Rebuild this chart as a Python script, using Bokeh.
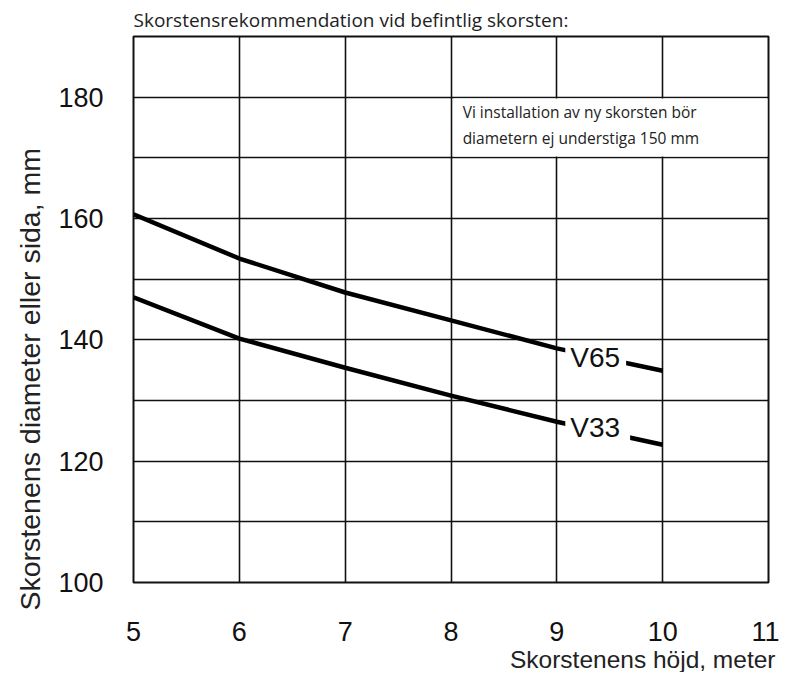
from bokeh.plotting import figure
from bokeh.models import FixedTicker, Title, Label, BoxAnnotation
from bokeh.embed import file_html
from bokeh.resources import INLINE

# ---- data ----
heights = [5, 6, 7, 8, 9, 10]
v65 = [160.7, 153.4, 147.8, 143.2, 138.6, 134.9]
v33 = [147.0, 140.2, 135.4, 130.8, 126.5, 122.7]
x_ticks = [5, 6, 7, 8, 9, 10, 11]
y_ticks = [100, 120, 140, 160, 180]
y_grid = [100, 110, 120, 130, 140, 150, 160, 170, 180, 190]

title_text = "Skorstensrekommendation vid befintlig skorsten:"
x_label = "Skorstenens höjd, meter"
y_label = "Skorstenens diameter eller sida, mm"
note_lines = ["Vi installation av ny skorsten bör", "diametern ej understiga 150 mm"]
# annotation box (data units) and label anchors
note_box = dict(left=8.03, right=10.99, bottom=170.2, top=179.8)
note_x = 8.11
note_y = [177.6, 173.35]
series_labels = [("V65", 9.08, 137.1), ("V33", 9.08, 125.6)]
label_gap_right = {"V65": 6, "V33": 10}

p = figure(width=779, height=672, x_range=(5, 11), y_range=(100, 190),
           output_backend="svg", toolbar_location=None,
           min_border_left=133, min_border_right=11,
           min_border_top=36, min_border_bottom=90)

p.title.text = title_text
p.title.align = "left"
p.title.text_font = "Open Sans"
p.title.text_font_size = "19px"
p.title.text_font_style = "normal"
p.title.text_color = "#222222"
p.title.standoff = 8

p.xaxis.ticker = FixedTicker(ticks=x_ticks)
p.yaxis.ticker = FixedTicker(ticks=y_ticks)
p.xgrid.ticker = FixedTicker(ticks=x_ticks)
p.ygrid.ticker = FixedTicker(ticks=y_grid)

for ax in (p.xaxis[0], p.yaxis[0]):
    ax.axis_line_color = None
    ax.major_tick_line_color = None
    ax.minor_tick_line_color = None
    ax.major_tick_out = 0
    ax.major_tick_in = 0
    ax.major_label_text_font = "Liberation Sans"
    ax.major_label_text_font_size = "27px"
    ax.major_label_text_color = "#111111"
p.xaxis.major_label_standoff = 39
p.yaxis.major_label_standoff = 30

for g in (p.xgrid[0], p.ygrid[0]):
    g.grid_line_color = "#111111"
    g.grid_line_width = 1.6
    g.grid_line_alpha = 1.0

p.outline_line_color = "#111111"
p.outline_line_width = 2
p.outline_line_alpha = 1.0

p.line(heights, v65, line_color="black", line_width=4.5, line_cap="butt")
p.line(heights, v33, line_color="black", line_width=4.5, line_cap="butt")

for txt, lx, ly in series_labels:
    p.add_layout(Label(x=lx, y=ly, text=txt, text_font="Liberation Sans",
                       text_font_size="28px", text_color="#111111",
                       text_baseline="alphabetic", text_align="left",
                       background_fill_color="white", background_fill_alpha=1.0,
                       padding=dict(left=5, right=label_gap_right[txt], top=0, bottom=0)))

p.add_layout(BoxAnnotation(fill_color="white", fill_alpha=1.0, line_color=None,
                           **note_box))
for line_txt, ny in zip(note_lines, note_y):
    p.add_layout(Label(x=note_x, y=ny, text=line_txt, text_font="Open Sans",
                       text_font_size="15.5px", text_color="#222222",
                       text_baseline="alphabetic", text_align="left"))

p.add_layout(Title(text=x_label, align="right", text_font="Liberation Sans",
                   text_font_size="24.5px", text_font_style="normal",
                   text_color="#222222", offset=-7, standoff=0), "below")
p.add_layout(Title(text=y_label, align="left", text_font="Liberation Sans",
                   text_font_size="28.5px", text_font_style="normal",
                   text_color="#222222", offset=-28, standoff=20), "left")

open("out.html", "w").write(file_html(p, INLINE))
